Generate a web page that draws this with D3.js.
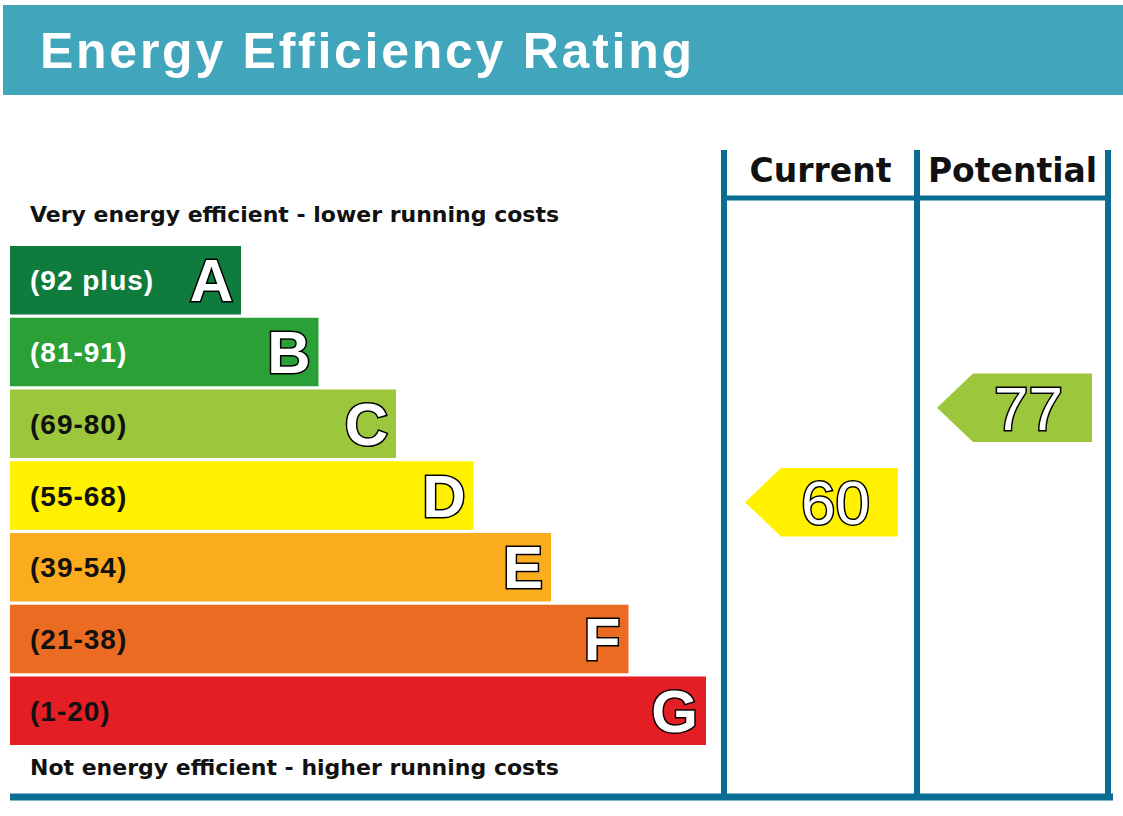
<!DOCTYPE html>
<html>
<head>
<meta charset="utf-8">
<script src="https://cdn.jsdelivr.net/npm/d3@7"></script>
<style>
  body { margin: 0; background: #fff; }
  text { font-family: "DejaVu Sans", Arial, sans-serif; font-weight: bold; }
</style>
</head>
<body>
<svg id="chart" width="1123" height="816"></svg>
<script>
// Rating bands, top (most efficient) to bottom
const letters = ['A', 'B', 'C', 'D', 'E', 'F', 'G'];
const ranges = ['(92 plus)', '(81-91)', '(69-80)', '(55-68)', '(39-54)', '(21-38)', '(1-20)'];
const bandWidthSteps = [1, 2, 3, 4, 5, 6, 7];
const colours = ['#0f7b3d', '#2ba036', '#9cc63c', '#fff100', '#fbac1e', '#ea6b21', '#e31e25'];
const labelColours = ['#fff', '#fff', '#111', '#111', '#111', '#111', '#111'];
const currentScore = 60;
const potentialScore = 77;
const minScores = [92, 81, 69, 55, 39, 21, 1];

const svg = d3.select('#chart');
const lineCol = '#0a6d94';
const sans = '"Liberation Sans", Arial, sans-serif';

// Header
svg.append('rect').attr('x', 3).attr('y', 5).attr('width', 1120).attr('height', 90).attr('fill', '#41a6bc');
svg.append('text').attr('x', 40).attr('y', 68).attr('font-size', 50).attr('fill', '#fff')
    .style('font-family', sans).attr('textLength', 652)
    .text('Energy Efficiency Rating');

// Scales
const y = d3.scaleBand().domain(letters).range([246, 745]).paddingInner(0.045);
const w = d3.scaleLinear().domain([1, 7]).range([231, 696]);
const yScore = d3.scaleLinear().domain([1, 100]).range([830, 280]);
const bandOf = score => letters[minScores.findIndex(m => score >= m)];

// Bands
const g = svg.selectAll('.band').data(letters).enter().append('g');
g.append('rect')
    .attr('x', 10).attr('y', d => y(d))
    .attr('width', (d, i) => w(bandWidthSteps[i])).attr('height', y.bandwidth())
    .attr('fill', (d, i) => colours[i]);
g.append('text')
    .attr('x', 30).attr('y', d => y(d) + y.bandwidth() / 2 + 10)
    .attr('font-size', 28).attr('fill', (d, i) => labelColours[i])
    .style('font-family', sans).style('letter-spacing', '1px')
    .text((d, i) => ranges[i]);
g.append('text')
    .attr('x', (d, i) => 10 + w(bandWidthSteps[i]) - 8).attr('y', d => y(d) + y.bandwidth() / 2 + 21)
    .attr('text-anchor', 'end').attr('font-size', 60)
    .style('font-family', sans)
    .attr('fill', '#fff').attr('stroke', '#000').attr('stroke-width', 3).attr('paint-order', 'stroke')
    .text(d => d);

svg.append('text').attr('x', 30).attr('y', 222).attr('font-size', 22).attr('fill', '#111')
    .text('Very energy efficient - lower running costs');
svg.append('text').attr('x', 30).attr('y', 775).attr('font-size', 22).attr('fill', '#111')
    .text('Not energy efficient - higher running costs');

// Frame
const cols = [724, 917, 1108];
cols.forEach(x => svg.append('line').attr('x1', x).attr('x2', x).attr('y1', 150).attr('y2', 797)
    .attr('stroke', lineCol).attr('stroke-width', 6));
svg.append('line').attr('x1', 721).attr('x2', 1111).attr('y1', 198).attr('y2', 198)
    .attr('stroke', lineCol).attr('stroke-width', 5);
svg.append('line').attr('x1', 10).attr('x2', 1113).attr('y1', 797).attr('y2', 797)
    .attr('stroke', lineCol).attr('stroke-width', 7);
svg.append('text').attr('x', (cols[0] + cols[1]) / 2).attr('y', 182).attr('text-anchor', 'middle')
    .attr('font-size', 33).attr('fill', '#111').text('Current');
svg.append('text').attr('x', (cols[1] + cols[2]) / 2).attr('y', 182).attr('text-anchor', 'middle')
    .attr('font-size', 33).attr('fill', '#111').text('Potential');

// Arrows
function arrow(score, x0, x1) {
    const i = letters.indexOf(bandOf(score));
    const h = y.bandwidth(), top = yScore(score) - h / 2, tip = 36;
    svg.append('path')
        .attr('d', `M${x0},${top + h / 2} L${x0 + tip},${top} L${x1},${top} L${x1},${top + h} L${x0 + tip},${top + h} Z`)
        .attr('fill', colours[i]);
    svg.append('text').attr('x', (x0 + tip + x1) / 2 - 4).attr('y', top + h / 2 + 22)
        .attr('text-anchor', 'middle').attr('font-size', 62)
        .style('font-family', sans).style('font-weight', 'normal')
        .attr('fill', '#fff').attr('stroke', '#000').attr('stroke-width', 3).attr('paint-order', 'stroke')
        .text(score);
}
arrow(currentScore, 745, 898);
arrow(potentialScore, 937, 1092);
</script>
</body>
</html>
